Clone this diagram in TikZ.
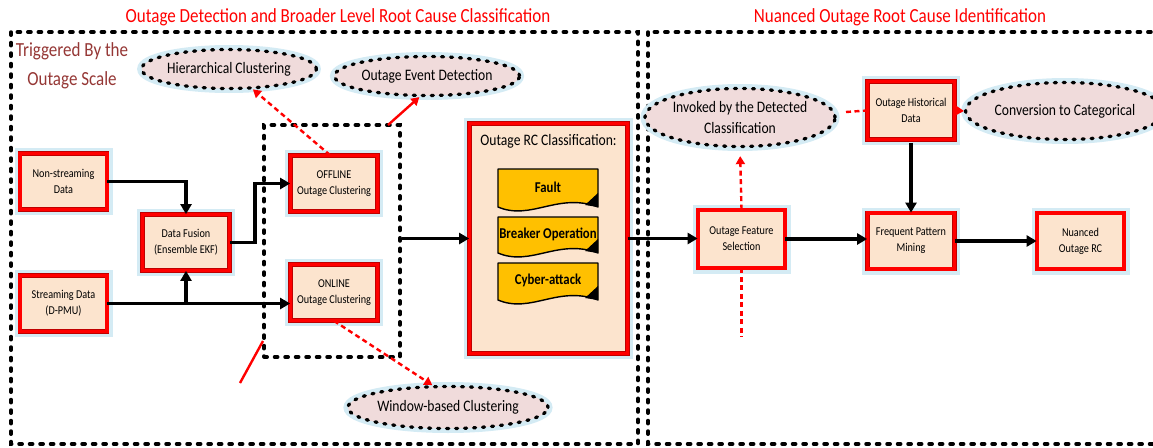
\documentclass[tikz,border=0pt]{standalone}
\usepackage{fontspec}
\setmainfont{Carlito}[FakeStretch=0.85]
\usetikzlibrary{arrows.meta,shapes.geometric,calc}
\definecolor{peach}{RGB}{252,228,206}
\definecolor{pinkfill}{RGB}{240,219,219}
\definecolor{glow}{RGB}{212,235,244}
\definecolor{darkred}{RGB}{192,0,0}
\definecolor{brownred}{RGB}{149,55,53}
\definecolor{amber}{RGB}{255,192,0}
\newcommand\docshape[4]{%
  \draw[fill=amber, line width=1.4pt, line join=round] (498,#2) -- (598,#2) -- (598,#3) .. controls (558,#3-15) and (531,#3+14) .. (498,#3) -- cycle;
  \fill (598,#3-14) -- (598,#3) -- (585,#3-2) -- cycle;
  \node[font=\fontsize{15}{18}\selectfont\bfseries] (#1) at (548,{(#2+#3)/2-1}) {#4};
}
\begin{document}
\begin{tikzpicture}[x=1pt,y=-1pt,
  box/.style={rectangle, fill=peach, draw=darkred, line width=0.8pt, double=red, double distance=3.2pt,
    minimum width=87pt, minimum height=56pt, inner sep=1pt, align=center,
    font=\fontsize{12}{16}\selectfont, preaction={draw=glow, line width=11pt}},
  ell/.style={ellipse, fill=pinkfill, draw=black, line width=3.3pt, dash pattern=on 2pt off 7pt, line cap=round,
    inner sep=0pt, align=center, font=\fontsize{16}{21}\selectfont,
    preaction={draw=glow, line width=9pt, solid}},
  bigdash/.style={draw=black, line width=3.5pt, dash pattern=on 3.2pt off 7.3pt, line cap=round},
  blk/.style={draw=black, line width=3.5pt, -{Triangle[length=10pt,width=11pt]}},
  reddash/.style={draw=red, line width=2.4pt, dash pattern=on 5pt off 3.5pt, -{Triangle[length=8pt,width=9pt]}},
  redline/.style={draw=red, line width=2.4pt},
  ttl/.style={text=red, font=\fontsize{20}{24}\selectfont, anchor=base}
]
\useasboundingbox (0,0) rectangle (1153,447);
\clip (0,0) rectangle (1153,447);

% titles
\node[ttl] (t1) at (338,22) {Outage Detection and Broader Level Root Cause Classification};
\node[ttl] (t2) at (900,22) {Nuanced Outage Root Cause Identification};

% big dashed frames
\draw[bigdash] (11,32) rectangle (638,444);
\draw[bigdash] (648,32) rectangle (1170,444);

\node[text=brownred, font=\fontsize{20}{29}\selectfont, align=center] (trig) at (72,66) {Triggered By the\\Outage Scale};

% ellipses
\node[ell, minimum width=159pt, minimum height=39pt] (hier) at (229,69) {Hierarchical Clustering};
\node[ell, minimum width=157pt, minimum height=39pt] (event) at (427,76) {Outage Event Detection};
\node[ell, minimum width=160pt, minimum height=42pt] (window) at (448,407.5) {Window-based Clustering};
\node[ell, minimum width=168pt, minimum height=58pt] (invoked) at (740,117.5) {Invoked by the Detected\\Classification};
\node[ell, minimum width=161pt, minimum height=57pt] (conv) at (1065,111) {Conversion to Categorical};

% small dashed box
\node[bigdash, rectangle, minimum width=136pt, minimum height=232pt, inner sep=0pt] (dbox) at (332,241) {};

% boxes
\node[box] (nonstream) at (63.5,181.5) {Non-streaming\\Data};
\node[box] (stream) at (63.5,303.5) {Streaming Data\\(D-PMU)};
\node[box] (fusion) at (186,242.5) {Data Fusion\\(Ensemble EKF)};
\node[box] (offline) at (334,183.5) {OFFLINE\\Outage Clustering};
\node[box] (online) at (334,292.5) {ONLINE\\Outage Clustering};
\node[box, minimum width=158pt, minimum height=230pt] (rc) at (548.5,238.5) {};
\node[font=\fontsize{16}{19}\selectfont] (rctitle) at (548.5,141) {Outage RC Classification:};
\docshape{fault}{169}{207}{Fault}
\docshape{breaker}{217}{253}{Breaker Operation}
\docshape{cyber}{263}{300}{Cyber-attack}
\node[box, minimum height=58pt] (feat) at (741.5,239) {Outage Feature\\Selection};
\node[box] (freq) at (911,241) {Frequent Pattern\\Mining};
\node[box] (nuanced) at (1080.5,241) {Nuanced\\Outage RC};
\node[box, minimum height=58pt] (hist) at (911,110.5) {Outage Historical\\Data};

% coordinates
\coordinate (bendx) at (255,0);
\coordinate (evstart) at (388,125);
\coordinate (redA) at (240,383);
\coordinate (redB) at (263,341);
\coordinate (featlow) at (741.5,337);
\coordinate (histin) at (846,112);

% black connectors
\draw[blk] (nonstream.east) -| (fusion.north);
\draw[blk] (stream.east) -- (stream.east -| online.west);
\draw[blk] (fusion.south |- stream.east) -- (fusion.south);
\draw[blk] (fusion.east) -- (fusion.east -| bendx) |- (offline.west);
\draw[blk] (dbox.east |- rc.west) -- (rc.west);
\draw[blk] (rc.east) -- (rc.east -| feat.west);
\draw[blk] (feat.east) -- (feat.east -| freq.west);
\draw[blk] (freq.east) -- (nuanced.west);
\draw[blk] ([yshift=-3pt]hist.south) -- (freq.north);

% red connectors
\draw[reddash] ([xshift=-4pt]offline.north) -- (hier);
\draw[redline, -{Triangle[length=8pt,width=9pt]}] (evstart) -- (event.250);
\draw[reddash] (online.south) -- (window.125);
\draw[redline] (redA) -- (redB);
\draw[reddash, shorten >=8pt] (feat.north) -- (invoked.south);
\draw[reddash, -] (feat.south) -- (featlow);
\draw[reddash, -] (histin) -- (hist.west);
\draw[reddash] (hist.east) -- (conv.west);
\end{tikzpicture}
\end{document}
